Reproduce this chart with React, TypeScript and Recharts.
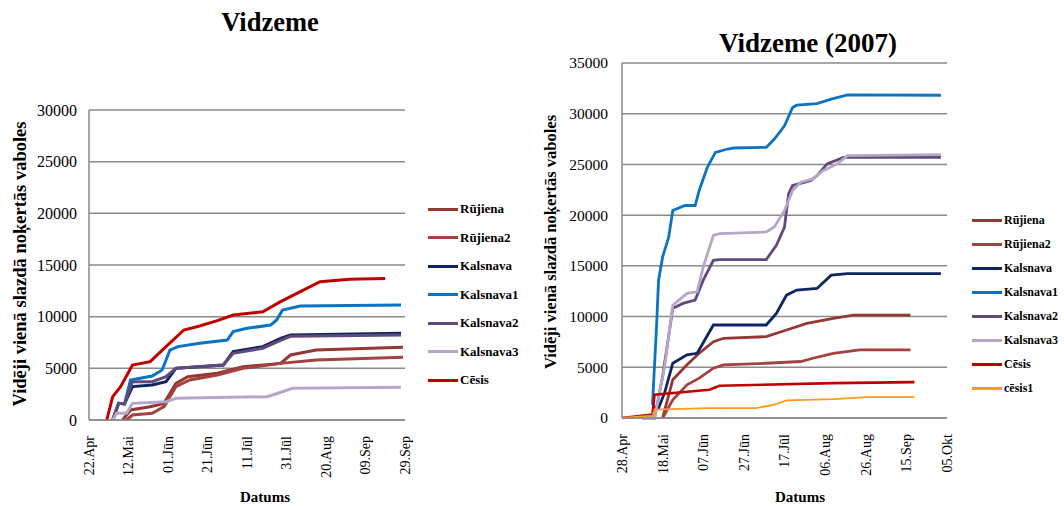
import { LineChart, Line, XAxis, YAxis, CartesianGrid } from "recharts";

// Left chart: days counted from 22.Apr, right chart: days counted from 28.Apr
const leftTickLabels = ["22.Apr", "12.Mai", "01.Jūn", "21.Jūn", "11.Jūl", "31.Jūl", "20.Aug", "09.Sep", "29.Sep"];
const rightTickLabels = ["28.Apr", "18.Mai", "07.Jūn", "27.Jūn", "17.Jūl", "06.Aug", "26.Aug", "15.Sep", "05.Okt"];
const dayTicks = [0, 20, 40, 60, 80, 100, 120, 140, 160];
const leftYTicks = [0, 5000, 10000, 15000, 20000, 25000, 30000];
const rightYTicks = [0, 5000, 10000, 15000, 20000, 25000, 30000, 35000];

// [day, mean beetles per trap]
const rujienaL = [[17, 0], [21, 970], [31, 1290], [38, 1610], [44, 3550], [50, 4190], [65, 4520], [78, 5160], [97, 5480], [102, 6290], [115, 6770], [159, 7030]];
const rujiena2L = [[19, 0], [22, 480], [32, 650], [38, 1290], [44, 3230], [51, 3870], [65, 4360], [78, 5000], [97, 5480], [115, 5810], [159, 6070]];
const kalsnavaL = [[12, 0], [15, 1610], [18, 1550], [22, 3230], [32, 3390], [39, 3710], [44, 5000], [68, 5320], [73, 6610], [88, 7100], [97, 7900], [102, 8230], [158, 8390]];
const kalsnava1L = [[12, 0], [15, 1610], [18, 1550], [21, 3870], [32, 4260], [37, 4840], [41, 6770], [45, 7100], [56, 7420], [70, 7740], [73, 8550], [80, 8870], [92, 9190], [95, 9680], [98, 10650], [107, 11030], [158, 11130]];
const kalsnava2L = [[12, 0], [15, 1610], [18, 1550], [22, 3710], [32, 3710], [39, 4190], [44, 5000], [68, 5320], [73, 6450], [88, 6950], [97, 7700], [102, 8100], [158, 8230]];
const kalsnava3L = [[12, 0], [14, 650], [19, 650], [22, 1610], [39, 1770], [44, 2100], [90, 2260], [93, 2420], [103, 3070], [158, 3160]];
const cesisL = [[9, 0], [12, 2260], [16, 3230], [22, 5320], [31, 5650], [39, 7100], [48, 8710], [56, 9100], [65, 9610], [73, 10160], [88, 10480], [97, 11450], [107, 12420], [117, 13390], [132, 13610], [150, 13700]];

const rujienaR = [[20, 0], [25, 3770], [32, 5240], [38, 6380], [45, 7530], [50, 7860], [71, 8020], [81, 8680], [91, 9330], [104, 9820], [114, 10150], [142, 10150]];
const rujiena2R = [[20, 0], [25, 1800], [32, 3270], [38, 3930], [45, 4910], [50, 5240], [71, 5400], [88, 5570], [94, 5890], [104, 6380], [117, 6710], [142, 6710]];
const kalsnavaR = [[15, 1150], [18, 980], [21, 2500], [25, 5400], [32, 6220], [37, 6380], [45, 9170], [52, 9170], [71, 9170], [76, 10310], [81, 12110], [86, 12610], [96, 12770], [103, 14080], [111, 14240], [157, 14240]];
const kalsnava1R = [[15, 1310], [17, 9000], [18, 13590], [20, 15880], [23, 17840], [25, 20460], [31, 20950], [36, 20950], [38, 22430], [42, 24720], [46, 26190], [52, 26520], [55, 26620], [71, 26680], [75, 27500], [80, 28810], [84, 30610], [86, 30840], [96, 31000], [103, 31430], [111, 31860], [157, 31820]];
const kalsnava2R = [[10, 0], [16, 0], [20, 4090], [25, 10810], [30, 11300], [36, 11620], [40, 13590], [45, 15550], [48, 15620], [71, 15620], [76, 17030], [80, 18830], [82, 22100], [84, 22920], [93, 23410], [96, 23900], [101, 25050], [109, 25700], [157, 25700]];
const kalsnava3R = [[10, 0], [16, 0], [21, 5080], [25, 11130], [32, 12280], [37, 12440], [40, 14900], [45, 18010], [48, 18170], [71, 18340], [75, 18830], [80, 20460], [84, 22430], [88, 23250], [94, 23570], [99, 24390], [106, 25050], [111, 25860], [157, 25960]];
const cesisR = [[0, 0], [15, 330], [16, 2290], [43, 2780], [48, 3180], [104, 3440], [144, 3540]];
const cesis1R = [[0, 0], [15, 230], [16, 820], [43, 980], [66, 980], [75, 1310], [81, 1740], [104, 1870], [121, 2060], [144, 2060]];

const toPts = (arr: number[][]) => arr.map(([d, v]) => ({ d, v }));

const leftSeries = [
  { name: "Rūjiena", color: "#953735", data: rujienaL },
  { name: "Rūjiena2", color: "#A3423F", data: rujiena2L },
  { name: "Kalsnava", color: "#0F2462", data: kalsnavaL },
  { name: "Kalsnava1", color: "#0A74C4", data: kalsnava1L },
  { name: "Kalsnava2", color: "#604A7B", data: kalsnava2L },
  { name: "Kalsnava3", color: "#B6A6CA", data: kalsnava3L },
  { name: "Cēsis", color: "#C00000", data: cesisL },
];

const rightSeries = [
  { name: "Rūjiena", color: "#953735", data: rujienaR, w: 2.8 },
  { name: "Rūjiena2", color: "#A3423F", data: rujiena2R, w: 2.8 },
  { name: "Kalsnava", color: "#0F2462", data: kalsnavaR, w: 2.8 },
  { name: "Kalsnava1", color: "#0A74C4", data: kalsnava1R, w: 2.8 },
  { name: "Kalsnava2", color: "#604A7B", data: kalsnava2R, w: 2.8 },
  { name: "Kalsnava3", color: "#B6A6CA", data: kalsnava3R, w: 2.8 },
  { name: "Cēsis", color: "#C00000", data: cesisR, w: 2.6 },
  { name: "cēsis1", color: "#FF9A1A", data: cesis1R, w: 1.8 },
];

const FONT = "'Liberation Serif', 'Times New Roman', serif";

function XTick(props: any) {
  const { x, y, payload, labels } = props;
  const label = labels[dayTicks.indexOf(payload.value)];
  const ty = y + 14;
  return (
    <text x={x} y={ty} transform={`rotate(-90 ${x} ${ty})`} textAnchor="end" dy="0.35em" fontSize={14} fontFamily={FONT} fill="#000">
      {label}
    </text>
  );
}

function YTick(props: any) {
  const { x, y, payload, size } = props;
  return (
    <text x={x} y={y} textAnchor="end" dy="0.35em" fontSize={size} fontFamily={FONT} fill="#000">
      {payload.value}
    </text>
  );
}

function LegendBox({ series, left, top, step, size }: any) {
  return (
    <>
      {series.map((s: any, i: number) => (
        <div key={s.name} style={{ position: "absolute", left, top: top + i * step - 10, height: 20, display: "flex", alignItems: "center", fontFamily: FONT, fontWeight: "bold", fontSize: size, whiteSpace: "nowrap" }}>
          <div style={{ width: 30, height: 3, background: s.color, marginRight: 2 }} />
          <span>{s.name}</span>
        </div>
      ))}
    </>
  );
}

function RotLabel({ text, cx, cy, size }: any) {
  return (
    <div style={{ position: "absolute", left: cx, top: cy, transform: "translate(-50%, -50%) rotate(-90deg)", whiteSpace: "nowrap", fontFamily: FONT, fontWeight: "bold", fontSize: size }}>
      {text}
    </div>
  );
}

function Centered({ text, cx, cy, size }: any) {
  return (
    <div style={{ position: "absolute", left: cx, top: cy, transform: "translate(-50%, -50%)", whiteSpace: "nowrap", fontFamily: FONT, fontWeight: "bold", fontSize: size, lineHeight: 1 }}>
      {text}
    </div>
  );
}

export default function App() {
  return (
    <div style={{ position: "absolute", left: 0, top: 0, width: 1064, height: 506, overflow: "hidden", background: "#fff" }}>
      <Centered text="Vidzeme" cx={270} cy={22} size={26.5} />
      <Centered text="Vidzeme (2007)" cx={808} cy={43} size={27} />

      <div style={{ position: "absolute", left: 0, top: 0 }}>
        <LineChart width={420} height={506} margin={{ top: 110, right: 15, bottom: 16, left: 29 }}>
          <CartesianGrid vertical={false} stroke="#8a8a8a" strokeWidth={1.5} />
          <XAxis type="number" dataKey="d" domain={[0, 160]} ticks={dayTicks} height={70} tickSize={0} stroke="#8a8a8a" strokeWidth={1.5} tick={<XTick labels={leftTickLabels} />} interval={0} />
          <YAxis type="number" domain={[0, 30000]} ticks={leftYTicks} width={60} tickSize={0} tickMargin={12} stroke="#8a8a8a" strokeWidth={1.5} tick={<YTick size={16} />} interval={0} />
          {leftSeries.map((s) => (
            <Line key={s.name} data={toPts(s.data)} dataKey="v" name={s.name} type="linear" stroke={s.color} strokeWidth={3} dot={false} isAnimationActive={false} />
          ))}
        </LineChart>
      </div>

      <div style={{ position: "absolute", left: 530, top: 0 }}>
        <LineChart width={430} height={506} margin={{ top: 63, right: 13, bottom: 18, left: 32 }}>
          <CartesianGrid vertical={false} stroke="#8a8a8a" strokeWidth={1.5} />
          <XAxis type="number" dataKey="d" domain={[0, 160]} ticks={dayTicks} height={70} tickSize={0} stroke="#8a8a8a" strokeWidth={1.5} tick={<XTick labels={rightTickLabels} />} interval={0} />
          <YAxis type="number" domain={[0, 35000]} ticks={rightYTicks} width={60} tickSize={0} tickMargin={14} stroke="#8a8a8a" strokeWidth={1.5} tick={<YTick size={15.5} />} interval={0} />
          {rightSeries.map((s) => (
            <Line key={s.name} data={toPts(s.data)} dataKey="v" name={s.name} type="linear" stroke={s.color} strokeWidth={s.w} dot={false} isAnimationActive={false} />
          ))}
        </LineChart>
      </div>

      <RotLabel text="Vidēji vienā slazdā noķertās vaboles" cx={20} cy={264} size={18.5} />
      <RotLabel text="Vidēji vienā slazdā noķertās vaboles" cx={551} cy={242} size={16.5} />
      <Centered text="Datums" cx={265} cy={497} size={15} />
      <Centered text="Datums" cx={800} cy={497} size={15} />

      <LegendBox series={leftSeries} left={428} top={209} step={28.5} size={13} />
      <LegendBox series={rightSeries} left={972} top={220.7} step={24} size={12} />
    </div>
  );
}
